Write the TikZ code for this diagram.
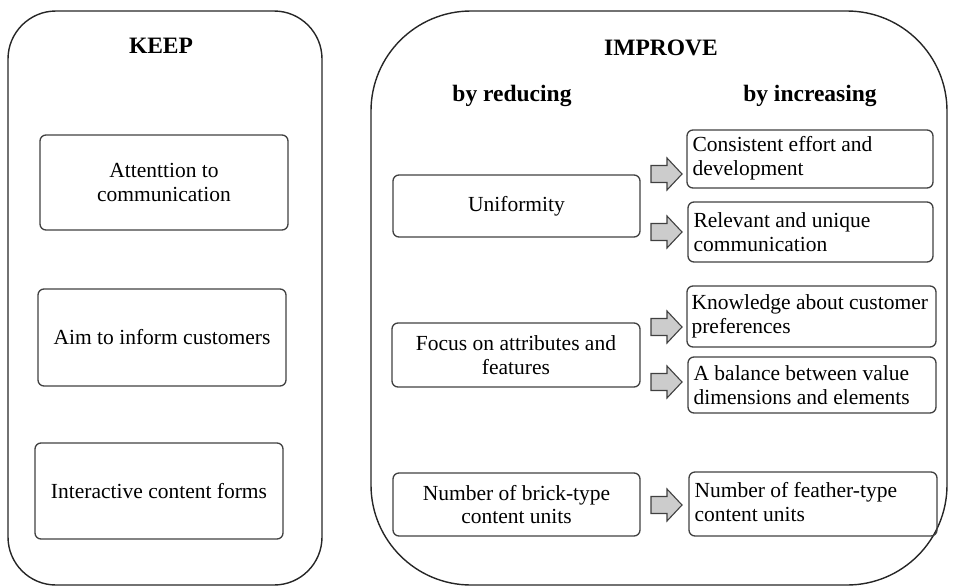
\documentclass[tikz,border=0pt]{standalone}
\usepackage{fontspec}
\setmainfont{Liberation Serif}
\begin{document}
\begin{tikzpicture}[x=1pt,y=-1pt,
  outerbox/.style={draw=black!85,line width=1.4pt,inner sep=0pt},
  inbox/.style={draw=black!75,line width=1.3pt,rounded corners=6pt,
    font=\fontsize{21.5}{23.5}\selectfont},
  lbox/.style={inbox,align=center},
  rbox/.style={draw=black!75,line width=1.3pt,rounded corners=6pt},
  rtext/.style={anchor=west,align=left,inner sep=0pt,
    font=\fontsize{21.5}{23.5}\selectfont},
  head/.style={font=\bfseries\fontsize{23.5}{26}\selectfont},
  barrow/.style={draw=black!75,fill=black!20,line width=1.1pt,line join=miter}]
\newcommand\blockarrow[2]{%
  \draw[barrow] (651,#2-8.5) -- (667,#2-8.5) -- (667,#2-16) -- (682,#2)
    -- (667,#2+16) -- (667,#2+8.5) -- (651,#2+8.5) -- cycle;
  \coordinate (#1) at (666.5,#2);}
\useasboundingbox (0,0) rectangle (953,587);
% outer containers
\node[outerbox,rounded corners=48pt,minimum width=314pt,minimum height=574pt] (keep) at (165,298) {};
\node[outerbox,rounded corners=100pt,minimum width=576pt,minimum height=574pt] (improve) at (659,298) {};
% headings
\node[head] (hkeep) at (161,46) {KEEP};
\node[head] (himp) at (661,48) {IMPROVE};
\node[head] (hred) at (512,96) {by reducing};
\node[head] (hinc) at (810,96) {by increasing};
% keep boxes
\node[lbox,minimum width=248pt,minimum height=95pt] (k1) at (164,182.5) {Attenttion to\\communication};
\node[lbox,minimum width=248pt,minimum height=97pt] (k2) at (162,337.5) {Aim to inform customers};
\node[lbox,minimum width=248pt,minimum height=96pt] (k3) at (159,491) {Interactive content forms};
% reduce boxes
\node[lbox,minimum width=247pt,minimum height=62pt] (r1) at (516.5,206) {Uniformity};
\node[lbox,minimum width=248pt,minimum height=64pt] (r2) at (516,355) {Focus on attributes and\\features};
\node[lbox,minimum width=247pt,minimum height=63pt] (r3) at (516.5,504.5) {Number of brick-type\\content units};
% increase boxes
\node[rbox,minimum width=246pt,minimum height=58pt] (i1) at (810,159) {};
\node[rbox,minimum width=245pt,minimum height=60pt] (i2) at (810.5,232) {};
\node[rbox,minimum width=249pt,minimum height=61pt] (i3) at (811.5,316.5) {};
\node[rbox,minimum width=248pt,minimum height=56pt] (i4) at (812,385) {};
\node[rbox,minimum width=248pt,minimum height=64pt] (i5) at (813,504) {};
\node[rtext] (t1) at ([xshift=6pt,yshift=1pt]i1.west) {Consistent effort and\\development};
\node[rtext] (t2) at ([xshift=6pt]i2.west) {Relevant and unique\\communication};
\node[rtext] (t3) at ([xshift=5pt]i3.west) {Knowledge about customer\\preferences};
\node[rtext] (t4) at ([xshift=6pt]i4.west) {A balance between value\\dimensions and elements};
\node[rtext] (t5) at ([xshift=6pt,yshift=2pt]i5.west) {Number of feather-type\\content units};
% block arrows
\blockarrow{a1}{174}
\blockarrow{a2}{232}
\blockarrow{a3}{327}
\blockarrow{a4}{382}
\blockarrow{a5}{505}
\end{tikzpicture}
\end{document}
